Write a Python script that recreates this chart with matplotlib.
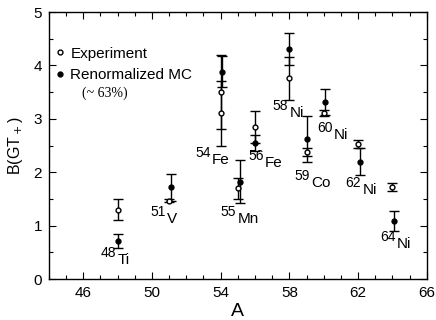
import matplotlib.pyplot as plt
import numpy as np
from matplotlib.lines import Line2D
from matplotlib.ticker import MultipleLocator

plt.rcParams['font.family'] = ['Liberation Sans', 'DejaVu Sans']

# Experiment (54Fe has two measurements)
exp_A = [48, 51, 54, 54, 55, 56, 58, 59, 60, 62, 64]
exp_B = [1.30, 1.47, 3.50, 3.10, 1.70, 2.85, 3.76, 2.38, 3.11, 2.53, 1.72]
exp_err = [0.20, 0.03, 0.70, 0.60, 0.20, 0.30, 0.40, 0.08, 0.05, 0.07, 0.07]

# Renormalized Monte Carlo
mc_A = [48.05, 51.1, 54.1, 55.1, 56.0, 58.0, 59.05, 60.1, 62.1, 64.1]
mc_B = [0.71, 1.72, 3.88, 1.82, 2.55, 4.31, 2.62, 3.32, 2.20, 1.09]
mc_err = [0.13, 0.25, 0.29, 0.40, 0.15, 0.30, 0.43, 0.24, 0.26, 0.19]

# nucleus labels: mass number, element, anchor (A, B)
lab_mass = ['48', '51', '54', '55', '56', '58', '59', '60', '62', '64']
lab_elem = ['Ti', 'V', 'Fe', 'Mn', 'Fe', 'Ni', 'Co', 'Ni', 'Ni', 'Ni']
lab_x = [47.92, 50.78, 53.42, 54.91, 56.49, 57.92, 59.20, 60.52, 62.16, 64.18]
lab_y = [0.41, 1.18, 2.28, 1.18, 2.23, 3.16, 1.85, 2.75, 1.72, 0.71]

fig = plt.figure(figsize=(4.36, 3.2), dpi=100)
ax = fig.add_axes([0.112, 0.128, 0.867, 0.8345])

ax.errorbar(exp_A, exp_B, yerr=exp_err, fmt='o', mfc='white', mec='black',
            ms=3.5, mew=1, ecolor='black', elinewidth=1, capsize=3.5, capthick=1, zorder=3)
ax.errorbar(mc_A, mc_B, yerr=mc_err, fmt='o', color='black',
            ms=3.5, ecolor='black', elinewidth=1, capsize=3.5, capthick=1, zorder=3)

for m, e, x, y in zip(lab_mass, lab_elem, lab_x, lab_y):
    ax.annotate(m, (x, y), ha='right', va='baseline', fontsize=10)
    ax.annotate(e, (x, y), xytext=(1, -5), textcoords='offset points',
                ha='left', va='baseline', fontsize=11)

ax.set_xlim(44, 66)
ax.set_ylim(0, 5)
ax.xaxis.set_major_locator(MultipleLocator(4))
ax.xaxis.set_minor_locator(MultipleLocator(1))
ax.yaxis.set_major_locator(MultipleLocator(1))
ax.yaxis.set_minor_locator(MultipleLocator(0.5))
ax.set_xticks(np.arange(46, 67, 4))
ax.tick_params(which='both', direction='in', top=True, right=True, labelsize=11, width=0.8)
ax.tick_params(which='major', length=5, pad=5)
ax.tick_params(which='minor', length=3)
for s in ax.spines.values():
    s.set_linewidth(1)

ax.set_xlabel('A', fontsize=14, labelpad=2)
ax.set_ylabel(r'B(GT$_+$)', fontsize=11.5, labelpad=6)

handles = [
    Line2D([], [], marker='o', ls='none', mfc='white', mec='black', ms=3.5, mew=1),
    Line2D([], [], marker='o', ls='none', color='black', ms=3.5),
]
ax.legend(handles, ['Experiment', 'Renormalized MC'], loc='upper left',
          bbox_to_anchor=(-0.02, 0.922), frameon=False, fontsize=11,
          handlelength=0.6, handletextpad=0.4, labelspacing=0.5)
ax.text(0.087, 0.695, '(~ 63%)', transform=ax.transAxes, fontsize=10,
        family=['Liberation Serif', 'DejaVu Serif'], va='center')

fig.savefig('out.png', dpi=100)
